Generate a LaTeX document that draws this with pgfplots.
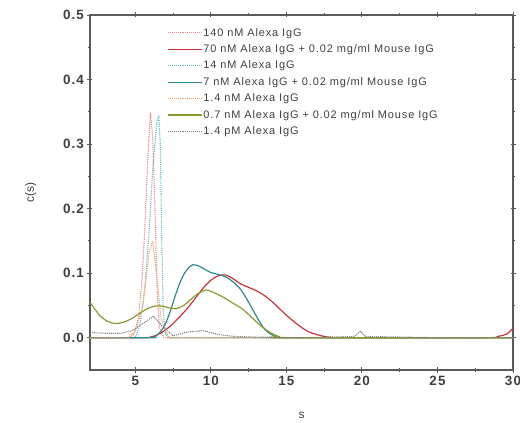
\documentclass[border=0pt]{standalone}
\usepackage{fontspec}
\setmainfont{Liberation Sans}
\newfontfamily\lsp[LetterSpace=8]{Liberation Sans}
\usepackage{pgfplots}
\pgfplotsset{compat=1.18}
\definecolor{cred}{HTML}{C8323C}
\definecolor{cteal}{HTML}{2E8A8C}
\definecolor{colive}{HTML}{8C9A32}
\definecolor{cpink}{HTML}{E8898C}
\definecolor{ccyan}{HTML}{5EC2C4}
\definecolor{corange}{HTML}{F0A060}
\definecolor{cgray}{HTML}{808080}
\definecolor{axgray}{HTML}{5A5A5A}

\begin{document}
\begin{tikzpicture}
\begin{axis}[
  scale only axis,
  width=423bp, height=355bp,
  xmin=2, xmax=30, ymin=-0.05, ymax=0.5,
  xtick={5,10,15,20,25,30},
  ytick={0,0.1,0.2,0.3,0.4,0.5},
  minor x tick num=1, minor y tick num=1,
  tick align=center,
  major tick length=5bp, minor tick length=3bp,
  tick style={axgray, line width=0.9bp},
  axis line style={axgray, line width=1.3bp},
  yticklabel style={/pgf/number format/.cd, fixed, fixed zerofill, precision=1},
  /pgf/number format/assume math mode=true,
  tick label style={font=\lsp\bfseries\fontsize{13.5}{14}\selectfont, axgray!70!black},
  xlabel={s}, ylabel={c(s)},
  label style={font=\fontsize{12}{13}\selectfont, axgray!70!black},
  xlabel style={yshift=-20bp},
  ylabel style={yshift=20bp},
  legend cell align=left,
  legend style={at={(rel axis cs:0.175,0.972)}, anchor=north west, draw=none, fill=none,
    font=\lsp\fontsize{11}{12}\selectfont, text=black!75,
    row sep=5bp, nodes={inner sep=1bp}},
  legend image code/.code={\draw[#1, line width=1.2bp] (0bp,0bp) -- (34bp,0bp);},
]
% 140 nM Alexa IgG
\addplot[cpink, densely dotted, line width=1.1bp] coordinates {
 (2,0) (4.6,0) (4.9,0.005) (5.2,0.03) (5.45,0.09) (5.65,0.18) (5.85,0.29) (6.0,0.35) (6.15,0.31) (6.3,0.2) (6.45,0.07) (6.6,0.015) (6.9,0) (30,0)};
\addlegendentry{140 nM Alexa IgG}
% 70 nM + mouse
\addplot[cred, line width=1.2bp, smooth] coordinates {
 (2,0) (5.5,0) (6,0.001) (6.5,0.005) (7,0.012) (7.5,0.022) (8,0.034) (8.5,0.047) (9,0.062) (9.5,0.077) (10,0.089) (10.5,0.096) (11,0.097) (11.5,0.091) (12,0.083) (12.5,0.078) (13,0.073) (13.5,0.066) (14,0.057) (14.5,0.046) (15,0.035) (15.5,0.025) (16,0.016) (16.5,0.009) (17,0.005) (17.5,0.002) (18,0.0005) (19,0) (28,0) (29,0.002) (29.6,0.006) (30,0.015)};
\addlegendentry{70 nM Alexa IgG + 0.02 mg/ml Mouse IgG}
% 14 nM
\addplot[ccyan, densely dotted, line width=1.1bp] coordinates {
 (2,0) (5.0,0) (5.3,0.02) (5.6,0.07) (5.9,0.16) (6.15,0.26) (6.4,0.33) (6.55,0.345) (6.65,0.3) (6.75,0.15) (6.85,0.04) (7.0,0.005) (7.3,0) (30,0)};
\addlegendentry{14 nM Alexa IgG}
% 7 nM + mouse
\addplot[cteal, line width=1.2bp, smooth] coordinates {
 (2,0) (6,0) (6.3,0.002) (6.7,0.01) (7,0.022) (7.3,0.04) (7.6,0.062) (8,0.088) (8.4,0.105) (8.8,0.113) (9.2,0.111) (9.6,0.106) (10,0.101) (10.5,0.098) (11,0.094) (11.5,0.086) (12,0.074) (12.5,0.055) (13,0.034) (13.5,0.015) (14,0.005) (14.5,0.001) (15,0) (30,0)};
\addlegendentry{7 nM Alexa IgG + 0.02 mg/ml Mouse IgG}
% 1.4 nM
\addplot[corange, densely dotted, line width=1.1bp] coordinates {
 (2,0) (4.5,0) (5.0,0.01) (5.5,0.05) (5.9,0.13) (6.15,0.15) (6.4,0.1) (6.7,0.03) (7.2,0) (30,0)};
\addlegendentry{1.4 nM Alexa IgG}
% 0.7 nM + mouse
\addplot[colive, line width=1.2bp, smooth] coordinates {
 (2,0.055) (2.3,0.045) (2.7,0.033) (3.2,0.025) (3.7,0.022) (4.2,0.024) (4.8,0.03) (5.3,0.038) (5.8,0.045) (6.3,0.049) (6.8,0.049) (7.3,0.046) (7.7,0.045) (8.2,0.05) (8.7,0.06) (9.2,0.069) (9.7,0.074) (10.2,0.07) (10.8,0.063) (11.5,0.053) (12,0.046) (12.5,0.036) (13,0.025) (13.5,0.015) (14,0.007) (14.5,0.002) (15,0) (30,0)};
\addlegendentry{0.7 nM Alexa IgG + 0.02 mg/ml Mouse IgG}
% 1.4 pM
\addplot[cgray, densely dotted, line width=1.1bp] coordinates {
 (2,0.008) (3,0.007) (4,0.007) (4.8,0.011) (5.5,0.022) (6.2,0.033) (6.8,0.018) (7.5,0.003) (8.5,0.009) (9.5,0.011) (10.5,0.005) (11.5,0.002) (13,0.001) (16,0) (19.5,0.002) (19.9,0.01) (20.2,0.002) (25,0) (30,0)};
\addlegendentry{1.4 pM Alexa IgG}
\end{axis}
\pgfresetboundingbox
\path (current axis.south west) ++(-90bp,-53bp) coordinate (bbsw);
\path (current axis.north east) ++(7bp,15bp) coordinate (bbne);
\path (bbsw) rectangle (bbne);
\end{tikzpicture}
\end{document}
